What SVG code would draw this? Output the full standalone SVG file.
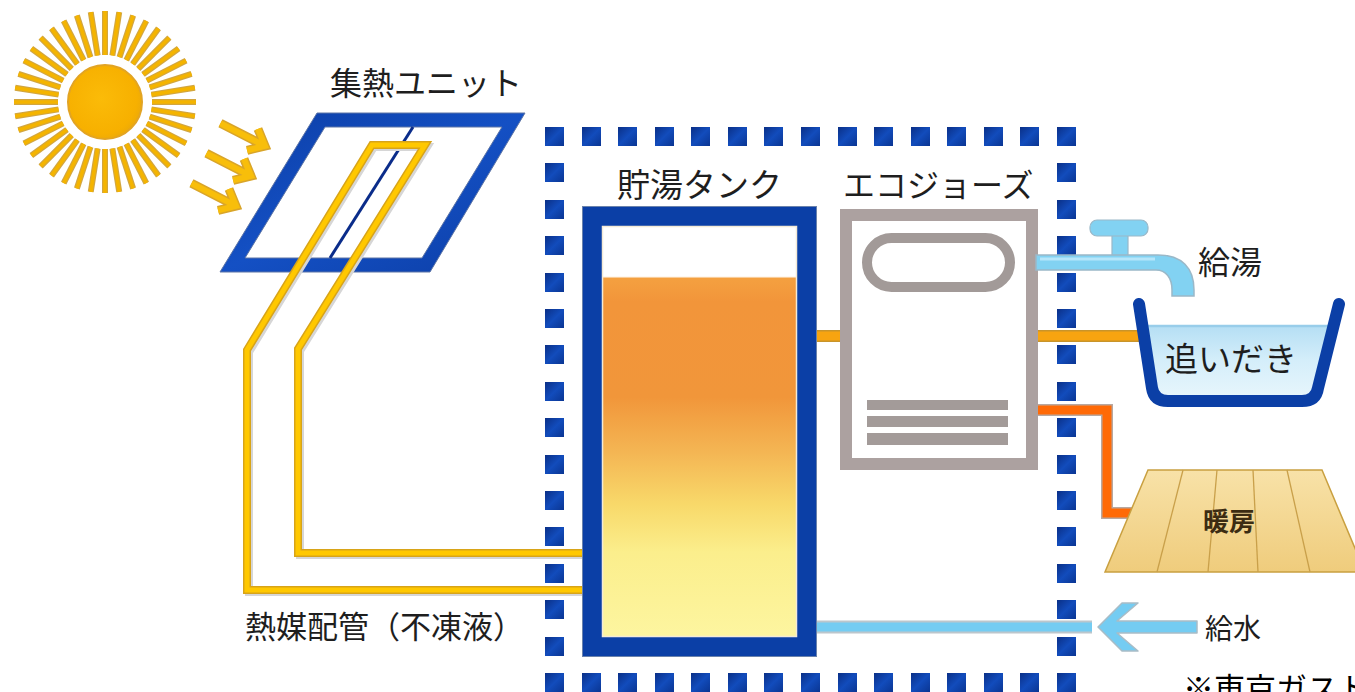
<svg xmlns="http://www.w3.org/2000/svg" xmlns:xlink="http://www.w3.org/1999/xlink" width="1355" height="692" viewBox="0 0 1355 692">
  <defs>
    <style>
      .label { font-family: "Noto Sans CJK JP", "Noto Sans", sans-serif; fill: #1e1e1e; }
      .ray-edge { stroke: #d2a640; stroke-width: 6; stroke-linecap: butt; }
      .ray { stroke: #f4b400; stroke-width: 3.6; stroke-linecap: butt; }
      .sun-arrow-edge { fill: none; stroke: #d9a52a; stroke-width: 9; stroke-linejoin: miter; }
      .sun-arrow { fill: none; stroke: #f8be0a; stroke-width: 6; stroke-linejoin: miter; }
      .pipe-shadow { fill: none; stroke: #d6d6d6; stroke-width: 8; }
      .pipe-edge { fill: none; stroke: #d8a418; stroke-width: 8; }
      .pipe-core { fill: none; stroke: #ffc800; stroke-width: 5; }
      .hot-edge { fill: none; stroke: #c8942a; stroke-width: 12; }
      .hot { fill: none; stroke: #f7a410; stroke-width: 9; }
      .heat-edge { fill: none; stroke: #b8a8a0; stroke-width: 12; }
      .heat { fill: none; stroke: #ff6a06; stroke-width: 9; }
      .cold-edge { fill: none; stroke: #bcc6cc; stroke-width: 13; }
      .cold { fill: none; stroke: #74ccf2; stroke-width: 9; }
      .grille { fill: #a39b99; }
      .board { stroke: #c9a04a; stroke-width: 1.3; }
    </style>
    <radialGradient id="sunDisc" cx="0.45" cy="0.45" r="0.6">
      <stop offset="0" stop-color="#fbbb08"/>
      <stop offset="0.8" stop-color="#f7b000"/>
      <stop offset="1" stop-color="#eaa80a"/>
    </radialGradient>
    <linearGradient id="dotFill" x1="0" y1="0" x2="1" y2="1">
      <stop offset="0" stop-color="#0a2f86"/>
      <stop offset="0.5" stop-color="#124cbc"/>
      <stop offset="1" stop-color="#0a3592"/>
    </linearGradient>
    <linearGradient id="panelFill" x1="0" y1="0" x2="1" y2="1">
      <stop offset="0" stop-color="#0c3da4"/>
      <stop offset="0.5" stop-color="#1450c4"/>
      <stop offset="1" stop-color="#0c3ea6"/>
    </linearGradient>
    <linearGradient id="tankFill" gradientUnits="userSpaceOnUse" x1="0" y1="216" x2="0" y2="647">
      <stop offset="0" stop-color="#ffffff"/>
      <stop offset="0.14" stop-color="#ffffff"/>
      <stop offset="0.145" stop-color="#f4a040"/>
      <stop offset="0.2" stop-color="#f2953a"/>
      <stop offset="0.42" stop-color="#f1963a"/>
      <stop offset="0.55" stop-color="#f4b654"/>
      <stop offset="0.67" stop-color="#f8d96a"/>
      <stop offset="0.78" stop-color="#fbee8c"/>
      <stop offset="1" stop-color="#fdf6a2"/>
    </linearGradient>
    <linearGradient id="waterFill" x1="0" y1="0" x2="0" y2="1">
      <stop offset="0" stop-color="#b4def4"/>
      <stop offset="0.5" stop-color="#d4eefa"/>
      <stop offset="1" stop-color="#e6f5fc"/>
    </linearGradient>
    <linearGradient id="woodFill" x1="0" y1="0" x2="0" y2="1">
      <stop offset="0" stop-color="#f8e2a8"/>
      <stop offset="1" stop-color="#efcc7c"/>
    </linearGradient>
    <rect id="dot" width="19" height="19" fill="url(#dotFill)"/>
    <g id="sunRay">
      <line class="ray-edge" x1="0" y1="-47" x2="0" y2="-91"/>
      <line class="ray" x1="0" y1="-47" x2="0" y2="-91"/>
    </g>
    <g id="sunArrowShape">
      <path class="sun-arrow-edge" d="M-50 0 H-3 M-14 -12 L0 0 L-14 12"/>
      <path class="sun-arrow" d="M-50 0 H-3 M-14 -12 L0 0 L-14 12"/>
    </g>
  </defs>

  <rect width="1355" height="692" fill="#ffffff"/>

  <!-- Sun -->
  <g id="sun" transform="translate(105 102)">
    <use xlink:href="#sunRay" transform="rotate(0)"/>
    <use xlink:href="#sunRay" transform="rotate(9)"/>
    <use xlink:href="#sunRay" transform="rotate(18)"/>
    <use xlink:href="#sunRay" transform="rotate(27)"/>
    <use xlink:href="#sunRay" transform="rotate(36)"/>
    <use xlink:href="#sunRay" transform="rotate(45)"/>
    <use xlink:href="#sunRay" transform="rotate(54)"/>
    <use xlink:href="#sunRay" transform="rotate(63)"/>
    <use xlink:href="#sunRay" transform="rotate(72)"/>
    <use xlink:href="#sunRay" transform="rotate(81)"/>
    <use xlink:href="#sunRay" transform="rotate(90)"/>
    <use xlink:href="#sunRay" transform="rotate(99)"/>
    <use xlink:href="#sunRay" transform="rotate(108)"/>
    <use xlink:href="#sunRay" transform="rotate(117)"/>
    <use xlink:href="#sunRay" transform="rotate(126)"/>
    <use xlink:href="#sunRay" transform="rotate(135)"/>
    <use xlink:href="#sunRay" transform="rotate(144)"/>
    <use xlink:href="#sunRay" transform="rotate(153)"/>
    <use xlink:href="#sunRay" transform="rotate(162)"/>
    <use xlink:href="#sunRay" transform="rotate(171)"/>
    <use xlink:href="#sunRay" transform="rotate(180)"/>
    <use xlink:href="#sunRay" transform="rotate(189)"/>
    <use xlink:href="#sunRay" transform="rotate(198)"/>
    <use xlink:href="#sunRay" transform="rotate(207)"/>
    <use xlink:href="#sunRay" transform="rotate(216)"/>
    <use xlink:href="#sunRay" transform="rotate(225)"/>
    <use xlink:href="#sunRay" transform="rotate(234)"/>
    <use xlink:href="#sunRay" transform="rotate(243)"/>
    <use xlink:href="#sunRay" transform="rotate(252)"/>
    <use xlink:href="#sunRay" transform="rotate(261)"/>
    <use xlink:href="#sunRay" transform="rotate(270)"/>
    <use xlink:href="#sunRay" transform="rotate(279)"/>
    <use xlink:href="#sunRay" transform="rotate(288)"/>
    <use xlink:href="#sunRay" transform="rotate(297)"/>
    <use xlink:href="#sunRay" transform="rotate(306)"/>
    <use xlink:href="#sunRay" transform="rotate(315)"/>
    <use xlink:href="#sunRay" transform="rotate(324)"/>
    <use xlink:href="#sunRay" transform="rotate(333)"/>
    <use xlink:href="#sunRay" transform="rotate(342)"/>
    <use xlink:href="#sunRay" transform="rotate(351)"/>
    <circle r="37" fill="url(#sunDisc)" stroke="#e2a424" stroke-width="2"/>
  </g>

  <!-- Sunlight arrows -->
  <g id="sunlight">
    <use xlink:href="#sunArrowShape" transform="translate(265 146) rotate(27)"/>
    <use xlink:href="#sunArrowShape" transform="translate(251 176) rotate(27)"/>
    <use xlink:href="#sunArrowShape" transform="translate(236 206) rotate(27)"/>
  </g>

  <!-- Solar collector -->
  <g id="collector">
    <path d="M317 113 L525 113 L430 272 L220 272 Z M325 127 L245 258 L422 258 L502 127 Z" fill="url(#panelFill)" fill-rule="evenodd" stroke="#5c74a6" stroke-width="1"/>
    <line x1="413" y1="127" x2="330" y2="258" stroke="#0a2c8a" stroke-width="3"/>
    <text class="label" x="330" y="95" font-size="32">集熱ユニット</text>
  </g>

  <!-- Piping -->
  <g id="connectors">
    <!-- heat-transfer fluid loop -->
    <g id="solar-loop">
      <path class="pipe-shadow" transform="translate(2 2)" d="M582 590 H247 V350 L372 145 H425 L298 349 V553 H582"/>
      <path class="pipe-edge" d="M582 590 H247 V350 L372 145 H425 L298 349 V553 H582"/>
      <path class="pipe-core" d="M582 590 H247 V350 L372 145 H425 L298 349 V553 H582"/>
    </g>
    <!-- tank to water heater -->
    <path class="hot-edge" d="M810 336 H846"/>
    <path class="hot" d="M810 336 H846"/>
    <!-- reheating line to bath -->
    <path class="hot-edge" d="M1034 336 H1142"/>
    <path class="hot" d="M1034 336 H1142"/>
    <!-- floor heating line -->
    <path class="heat-edge" d="M1034 410 H1107 V513 H1133"/>
    <path class="heat" d="M1034 410 H1107 V513 H1133"/>
    <!-- cold water supply -->
    <path class="cold-edge" d="M812 627 H1092"/>
    <path class="cold" d="M812 627 H1092"/>
    <path d="M1098 627 L1122 603 L1138 603 L1117 621 L1197 621 L1197 633 L1117 633 L1138 651 L1122 651 Z" fill="#74ccf2" stroke="#a9bcc6" stroke-width="1.5" stroke-linejoin="round"/>
  </g>

  <!-- Dotted boundary of the indoor unit -->
  <g id="unit-boundary">
    <use xlink:href="#dot" x="545" y="127"/><use xlink:href="#dot" x="582" y="127"/><use xlink:href="#dot" x="618" y="127"/>
    <use xlink:href="#dot" x="655" y="127"/><use xlink:href="#dot" x="691" y="127"/><use xlink:href="#dot" x="728" y="127"/>
    <use xlink:href="#dot" x="764" y="127"/><use xlink:href="#dot" x="801" y="127"/><use xlink:href="#dot" x="838" y="127"/>
    <use xlink:href="#dot" x="874" y="127"/><use xlink:href="#dot" x="911" y="127"/><use xlink:href="#dot" x="947" y="127"/>
    <use xlink:href="#dot" x="984" y="127"/><use xlink:href="#dot" x="1020" y="127"/><use xlink:href="#dot" x="1057" y="127"/>

    <use xlink:href="#dot" x="545" y="673"/><use xlink:href="#dot" x="582" y="673"/><use xlink:href="#dot" x="618" y="673"/>
    <use xlink:href="#dot" x="655" y="673"/><use xlink:href="#dot" x="691" y="673"/><use xlink:href="#dot" x="728" y="673"/>
    <use xlink:href="#dot" x="764" y="673"/><use xlink:href="#dot" x="801" y="673"/><use xlink:href="#dot" x="838" y="673"/>
    <use xlink:href="#dot" x="874" y="673"/><use xlink:href="#dot" x="911" y="673"/><use xlink:href="#dot" x="947" y="673"/>
    <use xlink:href="#dot" x="984" y="673"/><use xlink:href="#dot" x="1020" y="673"/><use xlink:href="#dot" x="1057" y="673"/>

    <use xlink:href="#dot" x="545" y="163"/><use xlink:href="#dot" x="545" y="200"/><use xlink:href="#dot" x="545" y="236"/>
    <use xlink:href="#dot" x="545" y="273"/><use xlink:href="#dot" x="545" y="309"/><use xlink:href="#dot" x="545" y="345"/>
    <use xlink:href="#dot" x="545" y="382"/><use xlink:href="#dot" x="545" y="418"/><use xlink:href="#dot" x="545" y="455"/>
    <use xlink:href="#dot" x="545" y="491"/><use xlink:href="#dot" x="545" y="527"/><use xlink:href="#dot" x="545" y="564"/>
    <use xlink:href="#dot" x="545" y="600"/><use xlink:href="#dot" x="545" y="637"/>

    <use xlink:href="#dot" x="1057" y="163"/><use xlink:href="#dot" x="1057" y="200"/><use xlink:href="#dot" x="1057" y="236"/>
    <use xlink:href="#dot" x="1057" y="273"/><use xlink:href="#dot" x="1057" y="309"/><use xlink:href="#dot" x="1057" y="345"/>
    <use xlink:href="#dot" x="1057" y="382"/><use xlink:href="#dot" x="1057" y="418"/><use xlink:href="#dot" x="1057" y="455"/>
    <use xlink:href="#dot" x="1057" y="491"/><use xlink:href="#dot" x="1057" y="527"/><use xlink:href="#dot" x="1057" y="564"/>
    <use xlink:href="#dot" x="1057" y="600"/><use xlink:href="#dot" x="1057" y="637"/>
  </g>

  <!-- Storage tank -->
  <g id="storage-tank">
    <rect x="592" y="216" width="215" height="431" fill="url(#tankFill)" stroke="#0b3fa6" stroke-width="20"/>
    <rect x="582.5" y="206.5" width="234" height="450" fill="none" stroke="#6a82ac" stroke-width="1"/>
    <rect x="602.5" y="226.5" width="194" height="410" fill="none" stroke="#f4ead6" stroke-width="1.5"/>
    <text class="label" x="617" y="197" font-size="33">貯湯タンク</text>
  </g>

  <!-- Gas water heater -->
  <g id="eco-jozu">
    <rect x="846" y="215" width="186" height="249" fill="#ffffff" stroke="#aca1a0" stroke-width="12"/>
    <rect x="867" y="238" width="143" height="49" rx="24.5" fill="#ffffff" stroke="#a29a98" stroke-width="10"/>
    <rect class="grille" x="867" y="400" width="141" height="10"/>
    <rect class="grille" x="867" y="416" width="141" height="11"/>
    <rect class="grille" x="867" y="433" width="141" height="12"/>
    <text class="label" x="843" y="197" font-size="32">エコジョーズ</text>
  </g>

  <!-- Hot water tap -->
  <g id="hot-water-tap">
    <rect x="1112" y="232" width="16" height="26" fill="#82d2f2" stroke="#9ab8c8" stroke-width="1.2"/>
    <rect x="1090" y="220" width="58" height="16" rx="7" fill="#82d2f2" stroke="#9ab8c8" stroke-width="1.2"/>
    <path d="M1036 255 H1158 C1182 255 1194 268 1194 290 V296 H1172 V290 C1172 278 1166 270 1156 270 H1036 Z" fill="#82d2f2" stroke="#9ab8c8" stroke-width="1.5"/>
    <path d="M1040 259 H1155" stroke="#b6e6fa" stroke-width="3" fill="none"/>
    <text class="label" x="1198" y="274" font-size="32">給湯</text>
  </g>

  <!-- Bathtub -->
  <g id="bathtub">
    <path d="M1147 325 L1331 325 L1313 388 Q1311 395 1302 395 L1168 395 Q1159 395 1158 388 Z" fill="url(#waterFill)"/>
    <line x1="1147" y1="326" x2="1331" y2="326" stroke="#98cdea" stroke-width="2.5"/>
    <path d="M1139 304 L1152 388 Q1154 401 1168 401 L1302 401 Q1316 401 1318 388 L1339 304" fill="none" stroke="#0b3fa6" stroke-width="12" stroke-linecap="round" stroke-linejoin="round"/>
    <text class="label" x="1165" y="371" font-size="33">追いだき</text>
  </g>

  <!-- Floor heating -->
  <g id="floor-heating">
    <path d="M1148 470 L1322 470 L1365 572 L1105 572 Z" fill="url(#woodFill)" stroke="#c9a040" stroke-width="1.5"/>
    <line class="board" x1="1183" y1="470" x2="1157" y2="572"/>
    <line class="board" x1="1217" y1="470" x2="1208" y2="572"/>
    <line class="board" x1="1253" y1="470" x2="1258" y2="572"/>
    <line class="board" x1="1287" y1="470" x2="1310" y2="572"/>
    <text class="label" x="1203" y="531" font-size="26" font-weight="bold" style="fill:#3c2c12">暖房</text>
  </g>

  <!-- Remaining labels -->
  <g id="labels">
    <text class="label" x="1205" y="639" font-size="28">給水</text>
    <text class="label" x="245" y="638" font-size="31">熱媒配管（不凍液）</text>
    <text class="label" x="1183" y="700" font-size="31" style="fill:#000000">※東京ガスト</text>
  </g>
</svg>
